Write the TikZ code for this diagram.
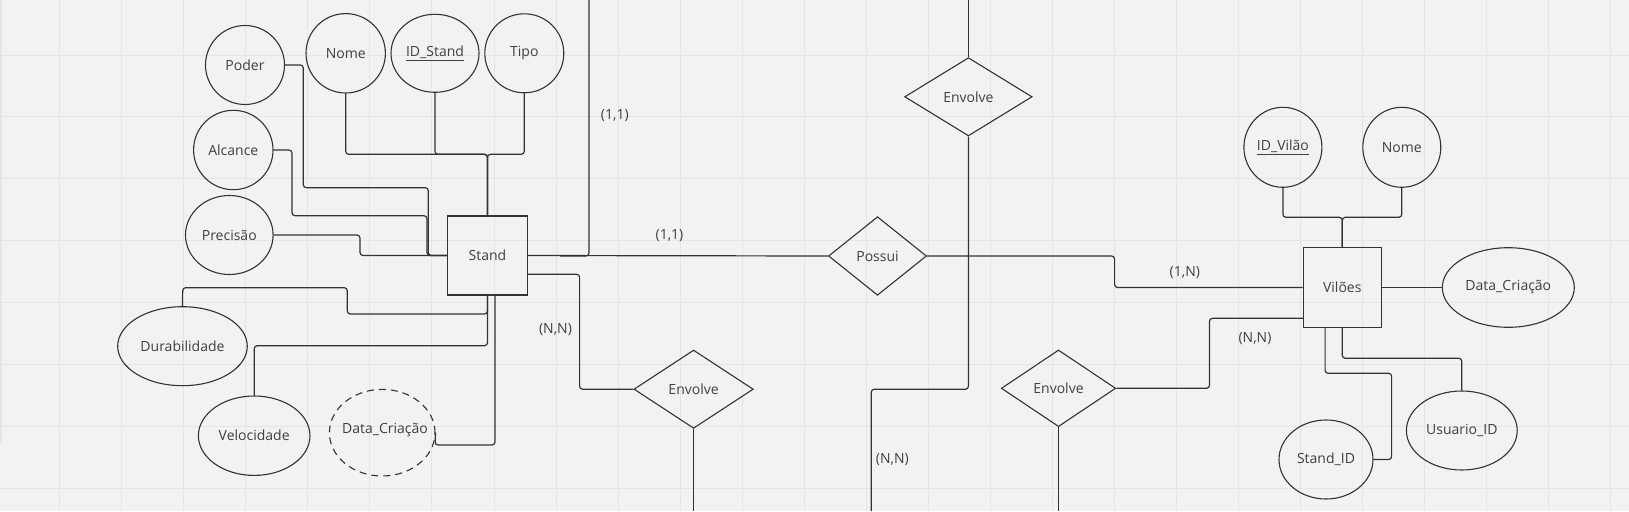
\documentclass[tikz,border=0pt]{standalone}
\usepackage{fontspec}
\setmainfont{Open Sans}
\usetikzlibrary{shapes.geometric,calc}
\definecolor{bgc}{HTML}{F2F2F2}
\definecolor{gridc}{HTML}{E5E5E5}
\definecolor{linec}{HTML}{333333}
\definecolor{textc}{HTML}{404040}
\tikzset{
  attr/.style={ellipse,draw=linec,line width=1.1pt,inner sep=0pt,text=textc,font=\fontsize{14}{16}\selectfont},
  entity/.style={rectangle,draw=linec,line width=1.3pt,inner sep=0pt,text=textc,font=\fontsize{14}{16}\selectfont},
  rel/.style={diamond,draw=linec,line width=1.1pt,inner sep=0pt,text=textc,font=\fontsize{14}{16}\selectfont},
  conn/.style={draw=linec,line width=1.2pt,rounded corners=3pt},
  card/.style={text=textc,font=\fontsize{14}{16}\selectfont,inner sep=0pt}
}
\begin{document}
\begin{tikzpicture}[x=1pt,y=-1pt]
\fill[bgc] (0,0) rectangle (1629,511);
\useasboundingbox (0,0) rectangle (1629,511);
\foreach \k in {0,...,25} {\draw[gridc,line width=0.9pt] ({59.6+62.05*\k},0) -- ({59.6+62.05*\k},511);}
\foreach \k in {0,...,7} {\draw[gridc,line width=0.9pt] (0,{55+61.85*\k}) -- (1629,{55+61.85*\k});}
\fill[gridc] (0,0) rectangle (2,443);

% Stand entity and attributes
\node[entity,minimum width=79.6pt,minimum height=79pt] (stand) at (487.5,255.5) {Stand};
\node[attr,minimum width=79pt,minimum height=79pt] (poder) at (245,65) {Poder};
\node[attr,minimum width=79.4pt,minimum height=79.4pt] (nome) at (345.7,53.3) {Nome};
\node[attr,minimum width=88pt,minimum height=78pt] (idstand) at (435,53.3) {\underline{ID\_Stand}};
\node[attr,minimum width=79pt,minimum height=79pt] (tipo) at (524.3,53.3) {Tipo};
\node[attr,minimum width=79.4pt,minimum height=79.4pt] (alcance) at (233.3,150) {Alcance};
\node[attr,minimum width=87.6pt,minimum height=79pt] (precisao) at (229.3,235) {Precisão};
\node[attr,minimum width=129.6pt,minimum height=79pt] (durab) at (182.5,346.2) {Durabilidade};
\node[attr,minimum width=111.6pt,minimum height=79.4pt] (veloc) at (254.2,435.7) {Velocidade};
\node[attr,dashed,dash pattern=on 7pt off 5pt,minimum width=105.6pt,minimum height=86.6pt] (datas) at (382.2,432.7) {};
\node[card] at (385,430) {Data\_Criação};

% Relationships
\node[rel,minimum width=98pt,minimum height=78.6pt] (possui) at (877.5,256) {Possui};
\node[rel,minimum width=127.5pt,minimum height=78.3pt] (envtop) at (968.4,96.8) {Envolve};
\node[rel,minimum width=119.4pt,minimum height=78.3pt] (envll) at (693.6,389.2) {Envolve};
\node[rel,minimum width=114.4pt,minimum height=76.7pt] (envlr) at (1058.5,388.3) {Envolve};

% Viloes entity and attributes
\node[entity,minimum width=78pt,minimum height=79.6pt] (viloes) at (1342.3,287.5) {Vilões};
\node[attr,minimum width=78pt,minimum height=80pt] (idvilao) at (1282.9,147.3) {\underline{ID\_Vilão}};
\node[attr,minimum width=78pt,minimum height=80pt] (nomev) at (1401.8,147.3) {Nome};
\node[attr,minimum width=132pt,minimum height=79.6pt] (datav) at (1508.3,287.5) {Data\_Criação};
\node[attr,minimum width=94pt,minimum height=79pt] (standid) at (1326,459.5) {Stand\_ID};
\node[attr,minimum width=110.8pt,minimum height=79pt] (usuarioid) at (1461.8,430.5) {Usuario\_ID};

% free ends
\coordinate (topA) at (589,0);
\coordinate (topB) at (968.4,0);
\coordinate (botA) at (693.6,511);
\coordinate (botB) at (871.2,511);
\coordinate (botC) at (1058.5,511);

% Stand attribute connectors
\draw[conn] (nome.south) |- (487.5,154.3) -- (stand.north);
\draw[conn] (idstand.south) |- (487.5,154.3) -- (stand.north);
\draw[conn] (tipo.south) |- (487.5,154.3) -- (stand.north);
\draw[conn] (poder.east) -- (303.3,65) -- (303.3,187.7) -- (428.3,187.7) -- (428.3,255.5) -- (stand.west);
\draw[conn] (alcance.east) -- (292,150) -- (292,215.7) -- (427,215.7) -- (427,255.5) -- (stand.west);
\draw[conn] (precisao.east) -- (360,235) -- (360,255.5) -- (stand.west);
\draw[conn] (durab.north) -- (182.7,287.7) -- (347.3,287.7) -- (347.3,314) -- (487.5,314) -- (stand.south);
\draw[conn] (stand.south) -- (487.5,345.7) -- (254.2,345.7) -- (veloc.north);
\draw[conn] ($(stand.south)+(7.5,0)$) -- (495,445) -- (435,445) -- (datas.east);

% Relationship connectors
\draw[conn] (stand.east) -- (possui.west);
\draw[conn] (topA) -- (589,256) -- (560,256);
\draw[conn] (topB) -- (envtop.north);
\draw[conn] (envtop.south) -- (968.4,389.3) -- (871.2,389.3) -- (botB);
\draw[conn] ($(stand.east)+(0,18.8)$) -- (579.6,274.3) -- (579.6,389.2) -- (envll.west);
\draw[conn] (envll.south) -- (botA);
\draw[conn] (envlr.south) -- (botC);
\draw[conn] (possui.east) -- (1114.6,256) -- (1114.6,287.5) -- (viloes.west);
\draw[conn] (envlr.east) -- (1209.5,388.3) -- (1209.5,318.3) -- (1303.3,318.3);

% Viloes attribute connectors
\draw[conn] (idvilao.south) |- (1342.3,217.3) -- (viloes.north);
\draw[conn] (nomev.south) |- (1342.3,217.3) -- (viloes.north);
\draw[conn] (viloes.east) -- (datav.west);
\draw[conn] (1325.1,327.3) -- (1325.1,373.3) -- (1391.6,373.3) -- (1391.6,459.5) -- (standid.east);
\draw[conn] (viloes.south) -- (1342.3,358.3) -- (1461.8,358.3) -- (usuarioid.north);

% cardinalities
\node[card] (c1) at (614.8,116) {(1,1)};
\node[card] (c2) at (669.5,236) {(1,1)};
\node[card] (c3) at (555.5,329.3) {(N,N)};
\node[card] (c4) at (892.3,460) {(N,N)};
\node[card] (c5) at (1184.8,272.7) {(1,N)};
\node[card] (c6) at (1255,338.7) {(N,N)};
\end{tikzpicture}
\end{document}
